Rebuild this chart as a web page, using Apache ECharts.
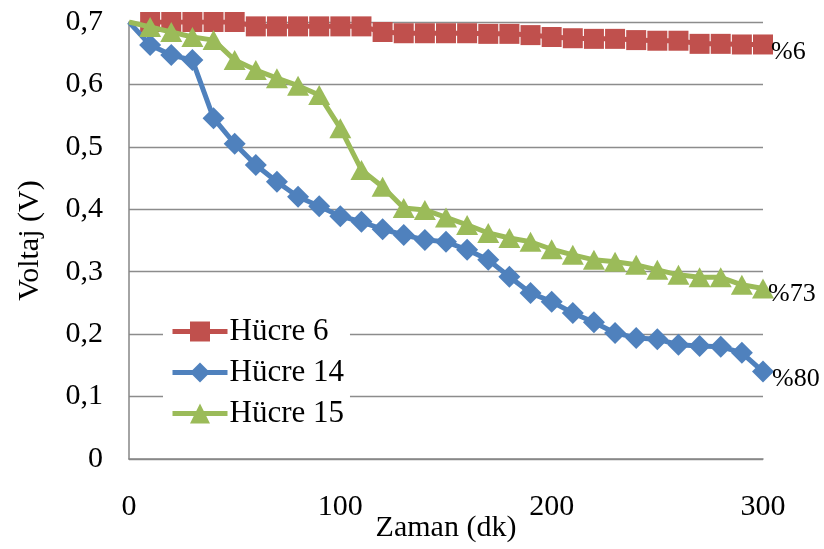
<!DOCTYPE html>
<html><head><meta charset="utf-8">
<script src="https://cdn.jsdelivr.net/npm/echarts@6/dist/echarts.min.js"></script>
<style>html,body{margin:0;padding:0;background:#fff}#c{width:824px;height:549px}</style>
</head><body><div id="c"></div>
<script>
var timeMin = [0,10,20,30,40,50,60,70,80,90,100,110,120,130,140,150,160,170,180,190,200,210,220,230,240,250,260,270,280,290,300];
var hucre6 = [null,0.700,0.700,0.700,0.700,0.700,0.693,0.693,0.693,0.693,0.693,0.693,0.684,0.682,0.682,0.682,0.682,0.681,0.681,0.679,0.676,0.674,0.673,0.673,0.671,0.670,0.670,0.665,0.665,0.664,0.664];
var hucre14 = [0.700,0.663,0.647,0.639,0.546,0.505,0.471,0.444,0.420,0.405,0.389,0.380,0.368,0.359,0.351,0.348,0.335,0.319,0.292,0.266,0.252,0.234,0.219,0.202,0.194,0.192,0.183,0.181,0.180,0.170,0.140];
var hucre15 = [0.700,0.692,0.684,0.676,0.671,0.639,0.623,0.610,0.598,0.583,0.530,0.463,0.436,0.402,0.399,0.387,0.375,0.362,0.354,0.348,0.336,0.327,0.319,0.316,0.311,0.303,0.295,0.291,0.291,0.279,0.273];
var seriesNames = ['Hücre 6','Hücre 14','Hücre 15'];
var endLabels = ['%6','%80','%73'];
var yTicks = [0,0.1,0.2,0.3,0.4,0.5,0.6,0.7];

var FONT = 'Liberation Serif';
var colors = ['#C0504D','#4F81BD','#9BBB59'];
var symbols = ['rect','diamond','triangle'];
var sizes = [[20,20],[22,22],[22,20]];
var labelOffsets = [[-2,8],[-2,8],[-6,6]];

function build(arr, idx){
  var out = [];
  var lastIdx = -1;
  for (var i=0;i<arr.length;i++) if (arr[i]!==null) lastIdx = i;
  for (var i=0;i<arr.length;i++){
    if (arr[i]===null) continue;
    var item = {value:[timeMin[i], arr[i]]};
    if (i===0) item.symbol = 'none';
    if (i===lastIdx){
      item.label = {show:true, position:'right', distance:0, offset:labelOffsets[idx],
        formatter:endLabels[idx], fontFamily:FONT, fontSize:26, color:'#000'};
    }
    out.push(item);
  }
  return out;
}
var data = [hucre6,hucre14,hucre15];
var series = data.map(function(arr, idx){
  return {
    name: seriesNames[idx], type:'line', data: build(arr, idx),
    symbol: symbols[idx], symbolSize: sizes[idx], showSymbol:true,
    lineStyle:{color:colors[idx], width:5},
    itemStyle:{color:colors[idx]},
    animation:false, z: 2+idx
  };
});

var chart = echarts.init(document.getElementById('c'), null, {renderer:'canvas'});
chart.setOption({
  backgroundColor:'#fff',
  animation:false,
  grid:{left:129, right:61, top:22, bottom:90, containLabel:false, outerBoundsMode:'none'},
  xAxis:{type:'value', min:0, max:300, interval:100,
    name:'Zaman (dk)', nameLocation:'middle', nameGap:54, nameMoveOverlap:false,
    nameTextStyle:{fontFamily:FONT, fontSize:30, color:'#000'},
    axisLine:{show:true, lineStyle:{color:'#868686', width:1.5}},
    axisTick:{show:false},
    splitLine:{show:false},
    axisLabel:{fontFamily:FONT, fontSize:30, color:'#000', margin:33}
  },
  yAxis:{type:'value', min:0, max:0.7, interval:0.1,
    name:'Voltaj (V)', nameLocation:'middle', nameGap:84, nameRotate:90, nameMoveOverlap:false,
    nameTextStyle:{fontFamily:FONT, fontSize:30, color:'#000'},
    axisLine:{show:true, lineStyle:{color:'#868686', width:1.5}},
    axisTick:{show:false},
    splitLine:{show:true, lineStyle:{color:'#8c8c8c', width:1.3}},
    axisLabel:{fontFamily:FONT, fontSize:30, color:'#000', margin:26,
      formatter:function(v){ var t = yTicks.reduce(function(a,b){return Math.abs(b-v)<Math.abs(a-v)?b:a;}); return t===0?'0':t.toFixed(1).replace('.',','); }}
  },
  legend:{orient:'vertical', left:163, top:311, backgroundColor:'#fff', padding:[5,6,5,7],
    itemWidth:55, itemHeight:25, itemGap:10,
    lineStyle:{width:5},
    textStyle:{fontFamily:FONT, fontSize:31, color:'#000', padding:[0,0,0,-3]},
    data:seriesNames
  },
  series: series
});
</script></body></html>
